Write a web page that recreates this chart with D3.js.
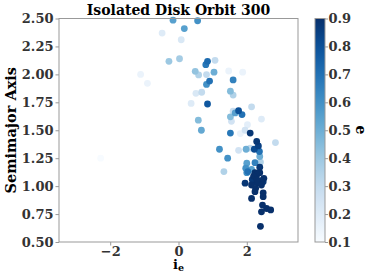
<!DOCTYPE html>
<html><head><meta charset="utf-8">
<script src="https://cdn.jsdelivr.net/npm/d3@7"></script>
<style>body{margin:0;background:#fff}svg{display:block}</style>
</head><body>
<svg id="c" width="374" height="280"></svg>
<script>
const title = "Isolated Disk Orbit 300";
const xTicks = [-2, 0, 2];
const yTicks = [0.50, 0.75, 1.00, 1.25, 1.50, 1.75, 2.00, 2.25, 2.50];
const cTicks = [0.1, 0.2, 0.3, 0.4, 0.5, 0.6, 0.7, 0.8, 0.9];
// inclination i_e
const ie = [-0.16,0.56,0.17,-0.48,0.08,-0.28,0.03,0.85,0.80,1.07,-1.11,-0.91,0.49,0.59,0.82,1.04,0.91,0.82,0.68,0.51,0.37,0.85,0.58,0.67,1.47,1.88,1.60,1.52,1.60,1.60,1.76,1.66,1.86,2.14,1.52,1.55,2.43,2.02,1.81,1.95,1.52,2.10,2.84,2.29,2.34,1.98,2.10,1.20,2.22,2.37,1.76,2.38,1.44,-2.28,2.40,2.00,2.24,2.38,1.97,2.14,1.33,2.03,2.24,2.00,2.32,2.20,2.50,2.43,2.19,2.32,1.95,2.14,2.43,2.26,2.24,2.48,2.48,2.14,2.46,2.58,2.70,2.43,2.40,2.38,2.48,2.29,2.16];
// semimajor axis
const sma = [2.485,2.48,2.41,2.37,2.31,2.117,2.14,2.117,2.087,2.126,2.00,1.92,2.027,1.995,1.998,2.02,1.94,1.91,1.84,1.83,1.74,1.735,1.59,1.50,2.03,2.02,1.95,1.85,1.815,1.67,1.675,1.655,1.64,1.71,1.62,1.58,1.60,1.55,1.47,1.50,1.475,1.475,1.39,1.40,1.36,1.33,1.34,1.33,1.33,1.31,1.32,1.265,1.25,1.25,1.215,1.205,1.21,1.17,1.16,1.15,1.13,1.13,1.12,1.12,1.11,1.09,1.07,1.05,1.04,1.03,1.026,1.01,1.01,0.98,0.95,0.94,0.906,0.89,0.83,0.80,0.787,0.77,0.64,1.12,1.04,1.06,1.06];
// eccentricity e
const ecc = [0.55,0.6,0.55,0.2,0.22,0.4,0.38,0.72,0.68,0.3,0.15,0.15,0.42,0.35,0.3,0.5,0.7,0.6,0.3,0.22,0.2,0.78,0.45,0.52,0.15,0.15,0.65,0.45,0.35,0.28,0.8,0.55,0.7,0.3,0.45,0.25,0.2,0.18,0.15,0.25,0.68,0.88,0.3,0.88,0.85,0.5,0.3,0.6,0.82,0.7,0.25,0.5,0.6,0.1,0.35,0.55,0.65,0.88,0.6,0.55,0.35,0.7,0.9,0.6,0.9,0.9,0.9,0.9,0.88,0.9,0.88,0.9,0.9,0.9,0.9,0.9,0.9,0.9,0.9,0.9,0.9,0.9,0.9,0.9,0.88,0.9,0.88];

const svg = d3.select("#c");
const L = 59, R = 298, T = 18.5, B = 242;
const x = d3.scaleLinear().domain([-3.5, 3.5]).range([L, R]);
const y = d3.scaleLinear().domain([0.5, 2.5]).range([B, T]);
const c = d3.scaleSequential(d3.interpolateBlues).domain([0.1, 0.9]);
const font = "'DejaVu Serif', serif";
const gray = "#999";

// points
const pts = ie.map((v, i) => ({x: v, y: sma[i], e: ecc[i]})).sort((a, b) => a.e - b.e);
svg.append("g").selectAll("circle").data(pts).join("circle")
  .attr("cx", d => x(d.x)).attr("cy", d => y(d.y)).attr("r", 3.4)
  .attr("fill", d => c(d.e));

// axes
const xa = svg.append("g").attr("transform", `translate(0,${B})`)
  .call(d3.axisBottom(x).tickValues(xTicks).tickSize(3.5).tickPadding(1).tickFormat(d => d < 0 ? "\u2212" + Math.abs(d) : d));
const ya = svg.append("g").attr("transform", `translate(${L},0)`)
  .call(d3.axisLeft(y).tickValues(yTicks).tickSize(3.5).tickPadding(2).tickFormat(d3.format(".2f")));
[xa, ya].forEach(g => {
  g.select(".domain").remove();
  g.selectAll("line").attr("stroke", gray);
  g.selectAll("text").attr("font-family", font).attr("font-weight", "bold").attr("font-size", 13).attr("fill", "#333");
});
svg.append("rect").attr("x", L).attr("y", T).attr("width", R - L).attr("height", B - T)
  .attr("fill", "none").attr("stroke", gray).attr("stroke-width", 1);

// colorbar
const CL = 315, CW = 10;
const defs = svg.append("defs");
const grad = defs.append("linearGradient").attr("id", "cg").attr("x1", 0).attr("y1", 1).attr("x2", 0).attr("y2", 0);
d3.range(0, 1.001, 0.05).forEach(t => grad.append("stop").attr("offset", t).attr("stop-color", d3.interpolateBlues(t)));
svg.append("rect").attr("x", CL).attr("y", T).attr("width", CW).attr("height", B - T).attr("fill", "url(#cg)")
  .attr("stroke", gray).attr("stroke-width", 1);
const cy = d3.scaleLinear().domain([0.1, 0.9]).range([B, T]);
const ca = svg.append("g").attr("transform", `translate(${CL + CW},0)`)
  .call(d3.axisRight(cy).tickValues(cTicks).tickSize(3).tickPadding(0.5).tickFormat(d3.format(".1f")));
ca.select(".domain").remove();
ca.selectAll("line").attr("stroke", gray);
ca.selectAll("text").attr("font-family", font).attr("font-weight", "bold").attr("font-size", 13).attr("fill", "#333");
svg.append("text").attr("transform", "translate(361,130) rotate(90)").attr("text-anchor", "middle")
  .attr("font-family", font).attr("font-weight", "bold").attr("font-size", 14).attr("dy", "0.35em").text("e");

// labels
svg.append("text").attr("x", (L + R) / 2).attr("y", 14.5).attr("text-anchor", "middle")
  .attr("font-family", font).attr("font-weight", "bold").attr("font-size", 14).text(title);
svg.append("text").attr("transform", `translate(16,${(T + B) / 2}) rotate(-90)`).attr("text-anchor", "middle")
  .attr("font-family", font).attr("font-weight", "bold").attr("font-size", 14.5).text("Semimajor Axis");
const xl = svg.append("text").attr("x", (L + R) / 2).attr("y", 268.5).attr("text-anchor", "middle")
  .attr("font-family", font).attr("font-weight", "bold").attr("font-size", 13);
xl.append("tspan").text("i");
xl.append("tspan").attr("font-size", 9.5).attr("dy", 2.5).text("e");
</script>
</body></html>
